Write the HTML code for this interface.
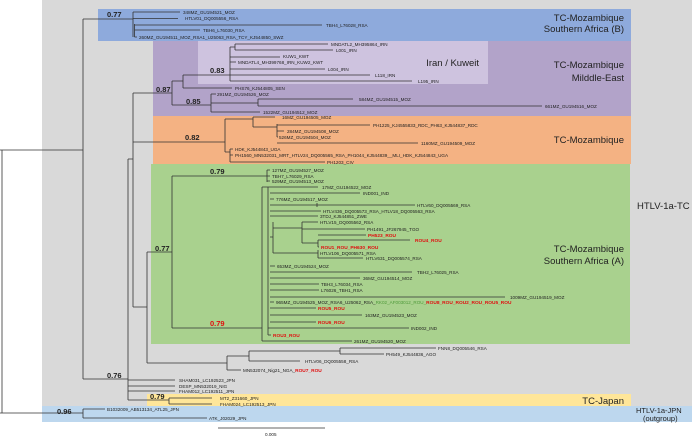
<!DOCTYPE html>
<html><head><meta charset="utf-8"><style>
html,body{margin:0;padding:0;background:#fff;}
svg{display:block;}
text{font-family:"Liberation Sans",sans-serif;}
.l{font-size:4.6px;fill:#222;}
.r{font-size:4.8px;fill:#e01010;font-weight:bold;}
.g{font-size:4.6px;fill:#4f9a3a;}
.b{font-size:7.5px;font-weight:bold;fill:#222;}
.c{font-size:9.5px;fill:#222;}
</style></head><body>
<svg width="692" height="437" viewBox="0 0 692 437" xmlns="http://www.w3.org/2000/svg">
<rect x="42" y="0" width="650" height="406" fill="#d9d9d9"/>
<rect x="98" y="9" width="533" height="32" fill="#8eaadc"/>
<rect x="153" y="41" width="478" height="75" fill="#b2a3c9"/>
<rect x="198" y="41" width="290" height="43" fill="#cec3df"/>
<rect x="153" y="116" width="478" height="48" fill="#f4b283"/>
<rect x="151" y="164" width="479" height="180" fill="#a9d18e"/>
<rect x="147" y="394" width="484" height="12" fill="#ffe699"/>
<rect x="42" y="406" width="650" height="16" fill="#bdd7ee"/>

<g fill="none" stroke="#333" stroke-width="0.8">
<!-- root -->
<path d="M2 150V413M0 150H83M0 413H83"/>
<path d="M83 19V379"/>
<!-- B clade -->
<path d="M83 19H133M133 12V37M133 12H180M133 18.5H178M134.5 25H322M134.5 30H200M134.5 37H137M134.5 24V37"/>
<!-- 0.76 node -->
<path d="M83 379H128M128 159V400M128 159H133M128 380H175M128 386H175M128 391H175M128 400H169M169 398V404M169 398H212M169 404H212"/>
<!-- N133 -->
<path d="M133 93V307M133 307H147"/>
<!-- purple -->
<path d="M133 93H172M172 81V105M172 81H183M183 75V88M183 75H230M183 88H232M172 105H211M211 94V112M211 94H216M211 103H258M258 99V106M258 99H353M258 106H542M211 112H260"/>
<!-- Iran -->
<path d="M230 47V81M230 47H235M235 44V50M235 44H328M235 50H333M230 57H280M230 62H236M230 69H325M230 75H370M230 81H412"/>
<!-- orange -->
<path d="M133 142H225M225 119V152M225 119H253M253 117V127M253 117H275M253 127H277M277 124V137M277 125H370M277 131H284M277 137H278M277 143H418M225 152H230M230 149V162M230 149H233M230 155H233M230 162H325"/>
<!-- green -->
<path d="M147 252V363M147 252H172M172 176V328M172 176H267M267 170V182M267 170H270M267 176H270M267 181H270"/>
<path d="M172 328H262M262 187V341M262 187H268M268 187V335"/>
<path d="M268 187H318M270 193H360M270 199H274M270 205H317M317 203V207M317 205H415M270 211H321M270 216H318"/>
<path d="M270 237H273M273 222V253M273 228H302M302 222V243M302 222H318M302 229H365M302 243H318M318 240V247M318 235H366M318 240H410M318 247H319M273 253H318M318 250V258M318 253H318M318 258H363"/>
<path d="M270 266H275M270 272H412M270 278H360M270 284H319M270 290H319M270 297H505M270 302H274M270 308H316M270 315H362M270 322H316M268 328H409M268 335H271M262 341H352"/>
<!-- FNN8 group -->
<path d="M147 363H227M227 356V370M227 356H249M249 351V361M249 351H340M340 348V354M340 348H436M340 354H384M249 361H300M227 370H241"/>
<!-- outgroup -->
<path d="M83 409V418M83 409H105M83 418H207"/>
<!-- scale -->
<path d="M218 428H325"/>
</g>

<!-- supports -->
<text class="b" x="107" y="17">0.77</text>
<text class="b" x="210" y="73">0.83</text>
<text class="b" x="156" y="92">0.87</text>
<text class="b" x="186" y="104">0.85</text>
<text class="b" x="185" y="140">0.82</text>
<text class="b" x="210" y="174">0.79</text>
<text class="b" x="155" y="251">0.77</text>
<text class="b" x="210" y="326" fill="#e01010" style="fill:#e01010">0.79</text>
<text class="b" x="107" y="378">0.76</text>
<text class="b" x="150" y="399">0.79</text>
<text class="b" x="57" y="414">0.96</text>

<!-- clade labels -->
<g class="c" text-anchor="end">
<text x="624" y="21">TC-Mozambique</text>
<text x="624" y="32">Southern Africa (B)</text>
<text x="479" y="66">Iran / Kuweit</text>
<text x="624" y="68">TC-Mozambique</text>
<text x="624" y="81">Milddle-East</text>
<text x="624" y="143">TC-Mozambique</text>
<text x="624" y="252">TC-Mozambique</text>
<text x="624" y="264">Southern Africa (A)</text>
<text x="624" y="404">TC-Japan</text>
</g>
<text class="c" x="637" y="209">HTLV-1a-TC</text>
<text x="636" y="413" style="font-size:7.5px;fill:#222">HTLV-1a-JPN</text>
<text x="643" y="421" style="font-size:7.5px;fill:#222">(outgroup)</text>

<!-- leaf labels -->
<g class="l">
<text x="183" y="14">348MZ_GU194521_MOZ</text>
<text x="185" y="20">HTLV01_DQ005556_RSA</text>
<text x="326" y="27">TBH4_L76028_RSA</text>
<text x="203" y="32">TBH6_L76030_RSA</text>
<text x="139" y="39">260MZ_GU194511_MOZ_RSA1_U25063_RSA_TCY_KJ544850_SWZ</text>
<text x="331" y="46">MNDATL2_MH395864_IRN</text>
<text x="336" y="52">L001_IRN</text>
<text x="283" y="58">KUW1_KWT</text>
<text x="238" y="64">MNDATL4_MH399768_IRN_KUW2_KWT</text>
<text x="328" y="71">L004_IRN</text>
<text x="375" y="77">L118_IRN</text>
<text x="418" y="83">L195_IRN</text>
<text x="235" y="90">PHS76_KJ544805_SEN</text>
<text x="217" y="96">291MZ_GU194526_MOZ</text>
<text x="359" y="101">584MZ_GU194515_MOZ</text>
<text x="545" y="108">661MZ_GU194516_MOZ</text>
<text x="263" y="114">1522MZ_GU194512_MOZ</text>
<text x="282" y="119">16MZ_GU194505_MOZ</text>
<text x="373" y="127">PH1225_KJ4555833_RDC_PH63_KJ544837_RDC</text>
<text x="287" y="133">284MZ_GU194508_MOZ</text>
<text x="279" y="139">526MZ_GU194504_MOZ</text>
<text x="421" y="145">1160MZ_GU194509_MOZ</text>
<text x="235" y="151">HDK_KJ544843_UGA</text>
<text x="235" y="157">PH1560_MN532031_MRT_HTLV24_DQ005565_RSA_PH1044_KJ544839__MLI_HDK_KJ544843_UGA</text>
<text x="327" y="164">PH1203_CIV</text>
<text x="272" y="172">127MZ_GU194527_MOZ</text>
<text x="272" y="178">TBH7_L76029_RSA</text>
<text x="272" y="183">529MZ_GU194513_MOZ</text>
<text x="322" y="189">17MZ_GU194522_MOZ</text>
<text x="363" y="195">IND001_IND</text>
<text x="276" y="201">776MZ_GU194517_MOZ</text>
<text x="417" y="207">HTLV60_DQ005569_RSA</text>
<text x="323" y="213">HTLV436_DQ005573_RSA_HTLV18_DQ005563_RSA</text>
<text x="320" y="218">3TDJ_KJ544851_ZWE</text>
<text x="320" y="224">HTLV15_DQ005562_RSA</text>
<text x="367" y="231">PH1491_JF267945_TGO</text>
<text x="320" y="260" style="display:none"></text>
<text x="320" y="255">HTLV106_DQ005571_RSA</text>
<text x="366" y="260">HTLV631_DQ005574_RSA</text>
<text x="277" y="268">653MZ_GU194524_MOZ</text>
<text x="417" y="274">TBH2_L76025_RSA</text>
<text x="363" y="280">36MZ_GU194514_MOZ</text>
<text x="321" y="286">TBH3_L76034_RSA</text>
<text x="321" y="292">L76026_TBH1_RSA</text>
<text x="510" y="299">1009MZ_GU194519_MOZ</text>
<text x="276" y="304">965MZ_GU194525_MOZ_RSA6_U25062_RSA_<tspan class="g">RK02_AF003012_ROU_</tspan><tspan class="r">ROU8_ROU_ROU2_ROU_ROU5_ROU</tspan></text>
<text x="365" y="317">163MZ_GU194523_MOZ</text>
<text x="411" y="330">IND002_IND</text>
<text x="354" y="343">261MZ_GU194520_MOZ</text>
<text x="438" y="350">FNN8_DQ005546_RSA</text>
<text x="386" y="356">PH549_KJ544836_AGO</text>
<text x="305" y="363">HTLV06_DQ005558_RSA</text>
<text x="243" y="372">MN532074_Nig21_NGA_<tspan class="r">ROU7_ROU</tspan></text>
<text x="179" y="382">SHAM031_LC192523_JPN</text>
<text x="179" y="388">DESP_MN532019_NIG</text>
<text x="179" y="393">FHAM012_LC192511_JPN</text>
<text x="220" y="400">MT2_Z31660_JPN</text>
<text x="220" y="406">FHAM024_LC192513_JPN</text>
<text x="107" y="411">B1032009_AB513134_ATL25_JPN</text>
<text x="209" y="420">ATK_J02029_JPN</text>
<text x="265" y="436">0.005</text>
</g>
<g class="r">
<text x="368" y="237">PH523_ROU</text>
<text x="415" y="242">ROU4_ROU</text>
<text x="321" y="249">ROU1_ROU_PH630_ROU</text>
<text x="318" y="310">ROU5_ROU</text>
<text x="318" y="324">ROU6_ROU</text>
<text x="273" y="337">ROU3_ROU</text>
</g>
</svg>
</body></html>
